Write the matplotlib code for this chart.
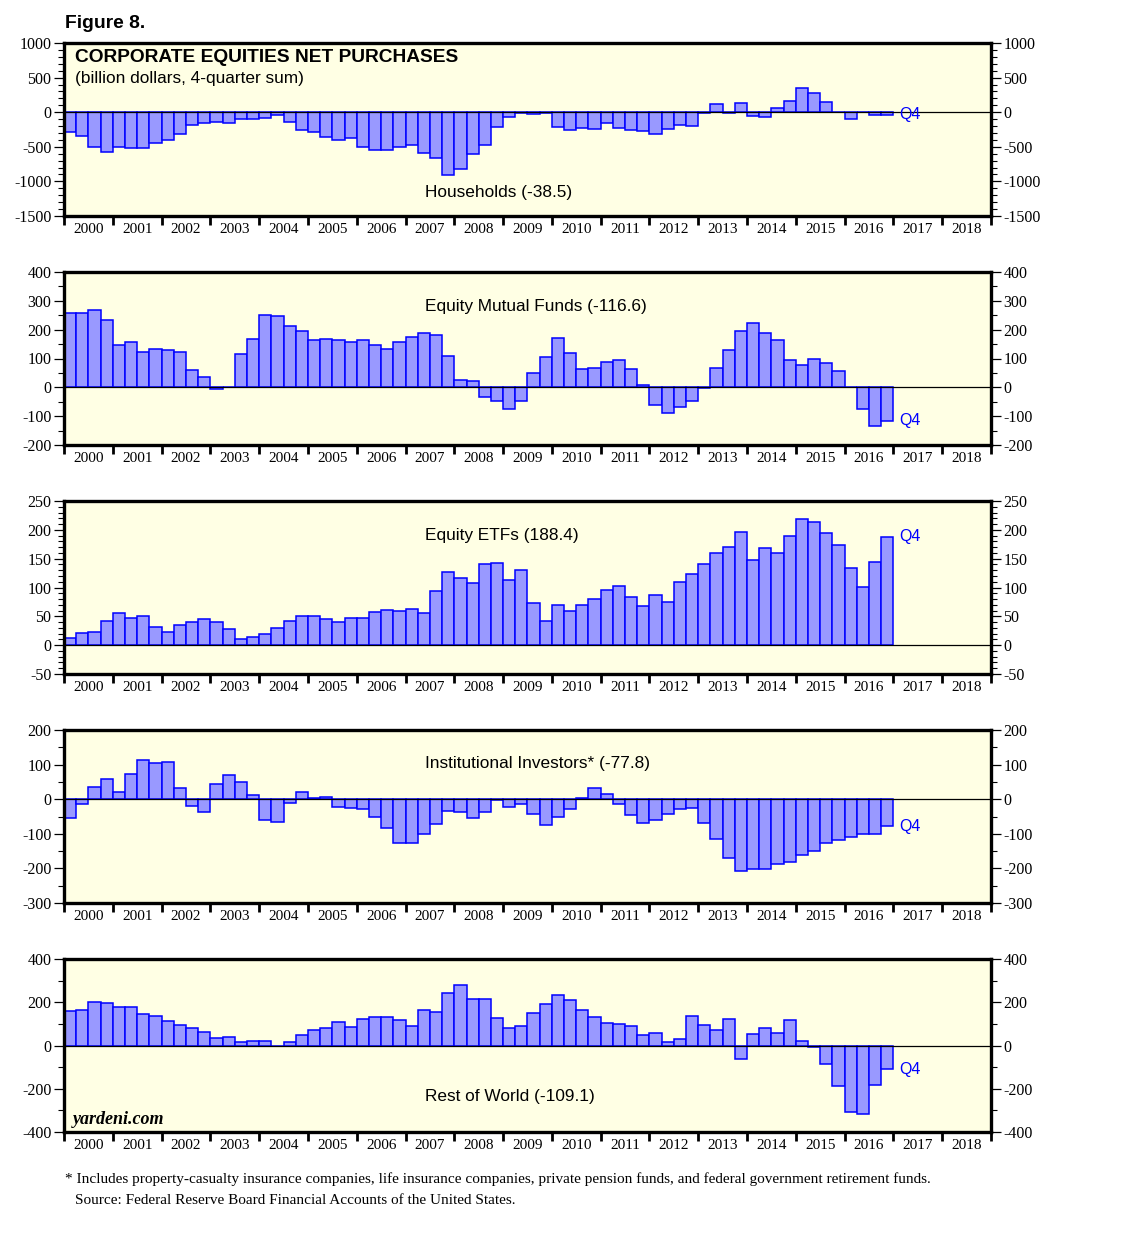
import numpy as np
from matplotlib import pyplot as plt
from matplotlib import ticker

FIG_W, FIG_H = 1138, 1236

# quarterly 4-quarter sums, 2000Q1 .. 2016Q4 (billion dollars)
quarters = 2000 + 0.25 * np.arange(68)
year_labels = [str(y) for y in range(2000, 2019)]

households = [
    -290, -350, -510, -570,
    -510, -520, -520, -450,
    -395, -320, -190, -160,
    -140, -160, -100, -100,
    -88, -45, -145, -250,
    -280, -365, -395, -380,
    -500, -540, -540, -500,
    -470, -585, -660, -905,
    -815, -600, -470, -220,
    -75, -5, -30, -12,
    -213, -257, -228, -243,
    -163, -228, -257, -272,
    -317, -243, -178, -198,
    -15, 119, -15, 134,
    -50, -64, 54, 158,
    351, 277, 144, 10,
    -99, 0, -35, -38.5,
]

mutual_funds = [
    257, 257, 267, 232,
    148, 156, 124, 134,
    130, 121, 60, 35,
    -7, 0, 116, 169,
    251, 246, 211, 194,
    165, 169, 165, 158,
    165, 148, 134, 158,
    176, 190, 183, 109,
    26, 21, -35, -49,
    -74, -49, 49, 106,
    172, 120, 63, 67,
    88, 95, 63, 7,
    -60, -88, -67, -49,
    -4, 67, 130, 197,
    222, 190, 165, 95,
    77, 99, 84, 56,
    0, -74, -134, -116.6,
]

etfs = [
    12, 21, 23, 42,
    56, 47, 51, 31,
    23, 35, 40, 45,
    40, 28, 10, 14,
    19, 30, 42, 51,
    51, 45, 40, 47,
    47, 58, 61, 59,
    63, 56, 94, 127,
    117, 108, 140, 143,
    113, 131, 73, 42,
    70, 59, 70, 80,
    96, 103, 84, 68,
    87, 75, 110, 124,
    141, 160, 171, 197,
    148, 169, 160, 190,
    218, 213, 194, 173,
    134, 101, 145, 188.4,
]

institutional = [
    -53, -15, 35, 59,
    20, 73, 114, 105,
    108, 32, -20, -38,
    44, 70, 50, 12,
    -59, -67, -12, 20,
    3, 6, -23, -26,
    -29, -50, -82, -126,
    -126, -102, -73, -35,
    -38, -53, -38, -3,
    -23, -15, -44, -76,
    -50, -29, 3, 32,
    15, -15, -47, -70,
    -59, -44, -29, -26,
    -70, -114, -170, -208,
    -202, -202, -187, -181,
    -161, -149, -126, -117,
    -108, -100, -100, -77.8,
]

rest_of_world = [
    159, 164, 202, 197,
    178, 178, 145, 136,
    112, 94, 80, 61,
    33, 37, 14, 19,
    19, 0, 14, 47,
    70, 80, 108, 84,
    122, 131, 131, 117,
    89, 164, 155, 244,
    281, 216, 216, 127,
    80, 89, 150, 192,
    234, 211, 164, 131,
    103, 98, 89, 47,
    56, 14, 28, 136,
    94, 70, 122, -61,
    52, 80, 56, 117,
    23, -5, -84, -188,
    -309, -319, -183, -109.1,
]

PANEL_BG = "#ffffe4"
BAR_FILL = "#9999ff"
BAR_EDGE = "#0000ff"
SANS = "Liberation Sans"
SERIF = "Liberation Serif"


def px_rect(left, top, width, height):
    return [left / FIG_W, 1 - (top + height) / FIG_H, width / FIG_W, height / FIG_H]


def bar_panel(fig, top, values, label, label_y, ylim, major, minor):
    ax = fig.add_axes(px_rect(64, top, 927, 173))
    ax.set_facecolor(PANEL_BG)
    ax.bar(quarters, values, width=0.25, align="edge", color=BAR_FILL,
           edgecolor=BAR_EDGE, linewidth=1.1, zorder=2)
    ax.axhline(0, color="black", lw=0.9, zorder=3)

    ax.set_xlim(2000, 2019)
    ax.set_ylim(*ylim)
    for side in ax.spines.values():
        side.set_linewidth(2.4)

    # year ticks on the boundaries, labels centred in each year
    ax.xaxis.set_major_locator(ticker.FixedLocator(np.arange(2000, 2020)))
    ax.xaxis.set_major_formatter(ticker.NullFormatter())
    ax.xaxis.set_minor_locator(ticker.FixedLocator(np.arange(2000, 2019) + 0.5))
    ax.xaxis.set_minor_formatter(ticker.FixedFormatter(year_labels))
    ax.tick_params(axis="x", which="major", direction="out", length=6.5, width=2,
                   bottom=True, top=False)
    ax.tick_params(axis="x", which="minor", length=0, pad=5, labelsize=11)

    ax.yaxis.set_major_locator(ticker.MultipleLocator(major))
    ax.yaxis.set_minor_locator(ticker.MultipleLocator(minor))
    ax.yaxis.set_major_formatter(ticker.FormatStrFormatter("%d"))
    ax.tick_params(axis="y", which="both", direction="out", left=True, right=True,
                   labelleft=True, labelright=True)
    ax.tick_params(axis="y", which="major", length=7, width=0.9, pad=2, labelsize=11.5)
    ax.tick_params(axis="y", which="minor", length=4, width=0.8)
    for t in ax.get_xticklabels(which="both") + ax.get_yticklabels():
        t.set_fontfamily(SERIF)

    ax.text(0.389, label_y, label, transform=ax.transAxes, ha="left", va="center",
            fontsize=12.4, family=SANS)
    ax.text(2017.11, values[-1], "Q4", color=BAR_EDGE, ha="left", va="center",
            fontsize=11.5, family=SANS)
    return ax


fig = plt.figure(figsize=(FIG_W / 100, FIG_H / 100), dpi=100)

ax1 = bar_panel(fig, 43, households, "Households (-38.5)", 0.133,
                (-1500, 1000), 500, 100)
ax1.text(0.012, 0.915, "CORPORATE EQUITIES NET PURCHASES", transform=ax1.transAxes,
         ha="left", va="center", fontsize=13.8, fontweight="bold", family=SANS)
ax1.text(0.012, 0.795, "(billion dollars, 4-quarter sum)", transform=ax1.transAxes,
         ha="left", va="center", fontsize=12.4, family=SANS)

bar_panel(fig, 272, mutual_funds, "Equity Mutual Funds (-116.6)", 0.80,
          (-200, 400), 100, 50)
bar_panel(fig, 501, etfs, "Equity ETFs (188.4)", 0.80, (-50, 250), 50, 10)
bar_panel(fig, 730, institutional, "Institutional Investors* (-77.8)", 0.805,
          (-300, 200), 100, 50)
ax5 = bar_panel(fig, 959, rest_of_world, "Rest of World (-109.1)", 0.208,
                (-400, 400), 200, 100)
ax5.text(0.01, 0.075, "yardeni.com", transform=ax5.transAxes, ha="left",
         va="center", fontsize=13, fontweight="bold", fontstyle="italic", family=SERIF)

fig.text(65 / FIG_W, 1 - 23 / FIG_H, "Figure 8.", ha="left", va="center",
         fontsize=13.9, fontweight="bold", family=SANS)
fig.text(65 / FIG_W, 1 - 1179 / FIG_H,
         "* Includes property-casualty insurance companies, life insurance companies, "
         "private pension funds, and federal government retirement funds.",
         ha="left", va="center", fontsize=11, family=SERIF)
fig.text(75 / FIG_W, 1 - 1200 / FIG_H,
         "Source: Federal Reserve Board Financial Accounts of the United States.",
         ha="left", va="center", fontsize=11, family=SERIF)

fig.savefig("out.png", dpi=100)
plt.close(fig)
